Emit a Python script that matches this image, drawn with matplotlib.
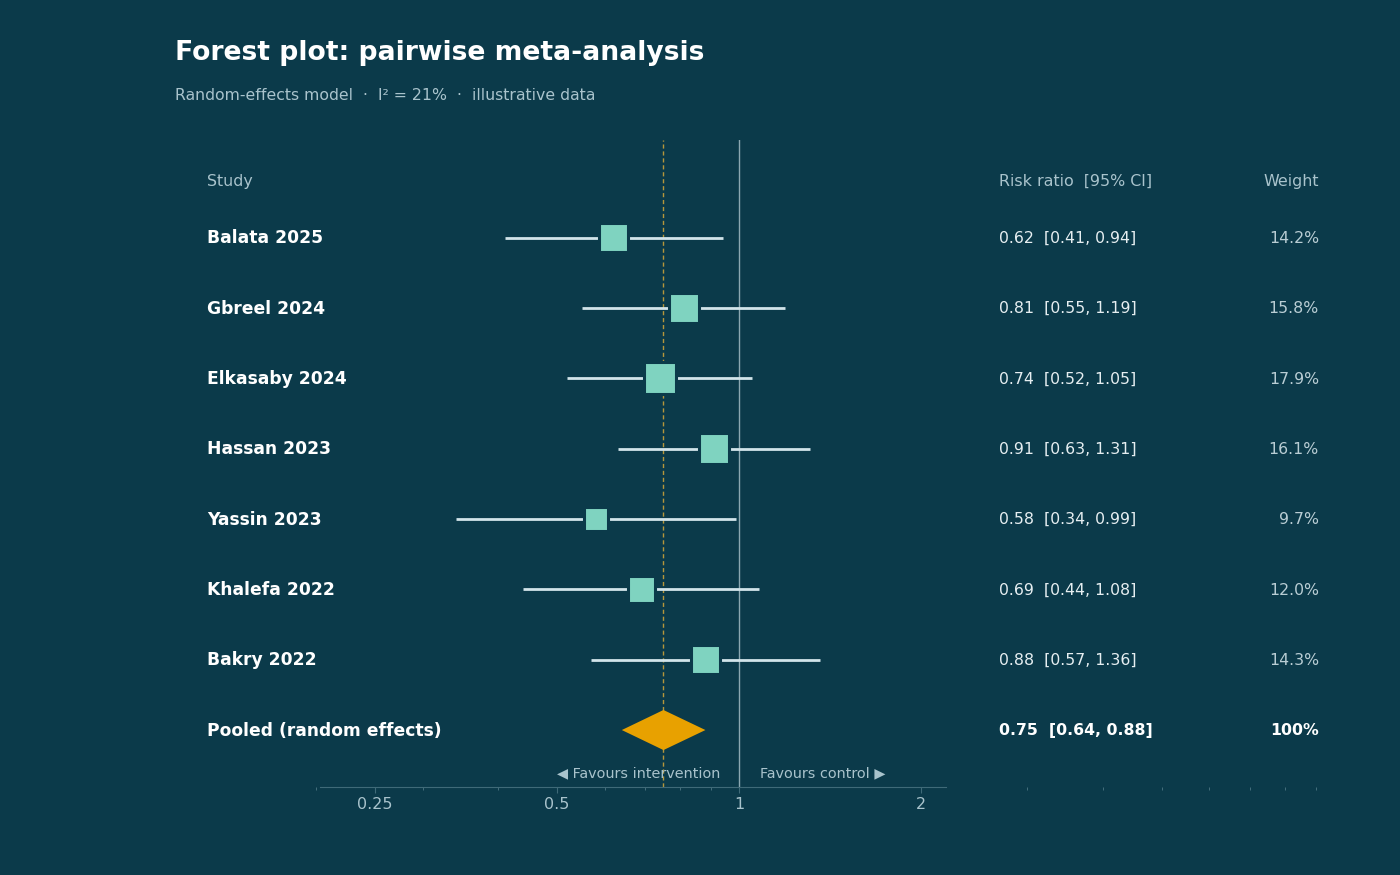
import numpy as np
import matplotlib.pyplot as plt
from matplotlib.patches import Polygon
from matplotlib.transforms import blended_transform_factory

studies = ["Balata 2025", "Gbreel 2024", "Elkasaby 2024", "Hassan 2023",
           "Yassin 2023", "Khalefa 2022", "Bakry 2022"]
rr = [0.62, 0.81, 0.74, 0.91, 0.58, 0.69, 0.88]
ci_lo = [0.41, 0.55, 0.52, 0.63, 0.34, 0.44, 0.57]
ci_hi = [0.94, 1.19, 1.05, 1.31, 0.99, 1.08, 1.36]
weights = [14.2, 15.8, 17.9, 16.1, 9.7, 12.0, 14.3]

pooled_label = "Pooled (random effects)"
pooled_rr = 0.75
pooled_lo = 0.64
pooled_hi = 0.88

xticks = [0.25, 0.5, 1, 2]
xticklabels = ["0.25", "0.5", "1", "2"]

BG = "#0b3a4a"
SQUARE = "#7fd3c0"
CI_LINE = "#d2e4ea"
DIAMOND = "#e8a100"
MUTED = "#a9c3cc"
WHITE = "#ffffff"

fig = plt.figure(figsize=(14, 8.75), dpi=100, facecolor=BG)

# pixel layout: x=1 at 739px, one doubling = 182px
px_left, px_right, px_top, px_bot = 175, 1330, 140, 787
xlo = 2 ** ((px_left - 739) / 182)
xhi = 2 ** ((px_right - 739) / 182)
ax = fig.add_axes([px_left / 1400, (875 - px_bot) / 875,
                   (px_right - px_left) / 1400, (px_bot - px_top) / 875])
ax.set_facecolor(BG)
ax.set_xscale("log")
ax.set_xlim(xlo, xhi)
n = len(studies)
ax.set_ylim(n + 0.81, -1.39)

# reference lines
ax.axvline(1, color="#8ba7b1", lw=1.0, zorder=1)
ax.axvline(pooled_rr, color="#c9a13a", lw=1.0, ls=(0, (3, 2)), alpha=0.9, zorder=1)

ys = np.arange(n)
for y, lo, hi in zip(ys, ci_lo, ci_hi):
    ax.plot([lo, hi], [y, y], color=CI_LINE, lw=2, solid_capstyle="butt", zorder=2)
ax.scatter(rr, ys, s=np.array(weights) * 30, marker="s", color=SQUARE,
           edgecolor=BG, linewidth=2.2, zorder=3)

yp = n
dh = 0.285
diamond = Polygon([(pooled_lo, yp), (pooled_rr, yp - dh), (pooled_hi, yp), (pooled_rr, yp + dh)],
                  closed=True, facecolor=DIAMOND, edgecolor="none", zorder=3)
ax.add_patch(diamond)

# text columns
tr = blended_transform_factory(fig.transFigure, ax.transData)
x_study, x_rr, x_w = 207 / 1400, 999 / 1400, 1319 / 1400
y_head = -0.8
ax.text(x_study, y_head, "Study", transform=tr, color=MUTED, fontsize=11.4, va="center")
ax.text(x_rr, y_head, "Risk ratio  [95% CI]", transform=tr, color=MUTED, fontsize=11.4, va="center")
ax.text(x_w, y_head, "Weight", transform=tr, color=MUTED, fontsize=11.4, va="center", ha="right")

for y, name, r, lo, hi, w in zip(ys, studies, rr, ci_lo, ci_hi, weights):
    ax.text(x_study, y + 0.01, name, transform=tr, color=WHITE, fontsize=12.3,
            fontweight="bold", va="center")
    ax.text(x_rr, y + 0.01, f"{r:.2f}  [{lo:.2f}, {hi:.2f}]", transform=tr, color="#e6eef1",
            fontsize=11.3, va="center")
    ax.text(x_w, y + 0.01, f"{w:.1f}%", transform=tr, color="#b9cdd4", fontsize=11.3,
            va="center", ha="right")

ax.text(x_study, yp + 0.01, pooled_label, transform=tr, color=WHITE, fontsize=12.3,
        fontweight="bold", va="center")
ax.text(x_rr, yp + 0.01, f"{pooled_rr:.2f}  [{pooled_lo:.2f}, {pooled_hi:.2f}]", transform=tr,
        color=WHITE, fontsize=11.3, fontweight="bold", va="center")
ax.text(x_w, yp + 0.01, "100%", transform=tr, color=WHITE, fontsize=11.3, fontweight="bold",
        va="center", ha="right")

ax.text(0.930, n + 0.62, "\u25c0 Favours intervention", color=MUTED, fontsize=10.4,
        ha="right", va="center")
ax.text(1.083, n + 0.62, "Favours control \u25b6", color=MUTED, fontsize=10.4,
        ha="left", va="center")

# axis styling
for s in ["top", "left", "right"]:
    ax.spines[s].set_visible(False)
ax.spines["bottom"].set_color("#3f6a78")
ax.spines["bottom"].set_bounds(0.203, 2.2)
ax.set_yticks([])
ax.set_xticks(xticks)
ax.set_xticklabels(xticklabels)
ax.tick_params(axis="x", which="major", colors="#3f6a78", labelcolor=MUTED,
               labelsize=11.5, length=4, pad=3)
ax.tick_params(axis="x", which="minor", colors="#4f7785", length=2.5)

fig.text(175 / 1400, 1 - 53 / 875, "Forest plot: pairwise meta-analysis", color=WHITE,
         fontsize=19.2, fontweight="bold", va="center")
fig.text(175 / 1400, 1 - 96 / 875, "Random-effects model  \u00b7  I\u00b2 = 21%  \u00b7  illustrative data",
         color=MUTED, fontsize=11.3, va="center")

fig.savefig("out.png", dpi=100, facecolor=BG)
